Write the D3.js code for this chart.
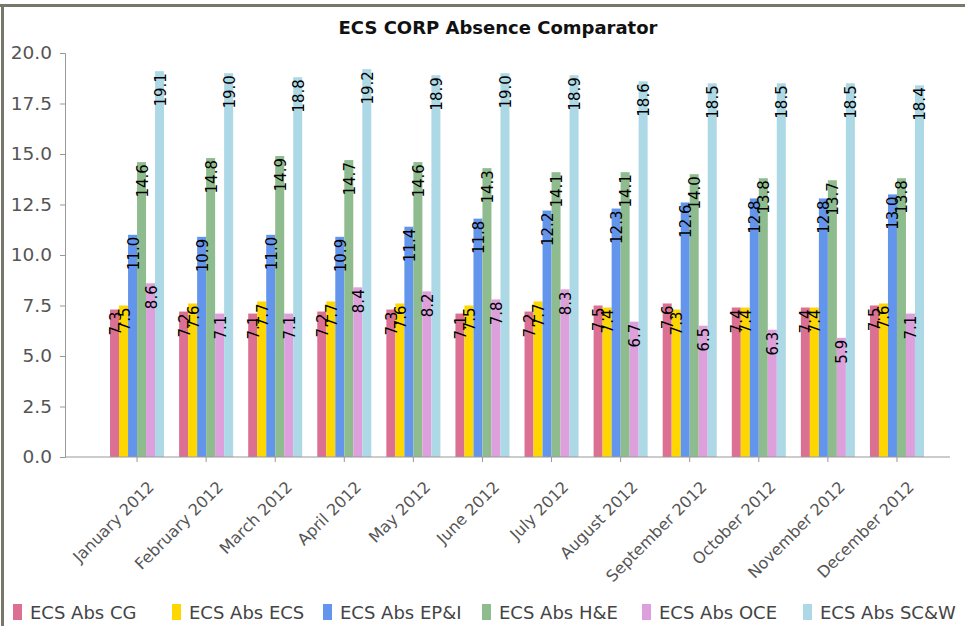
<!DOCTYPE html>
<html>
<head>
<meta charset="utf-8">
<script src="https://cdnjs.cloudflare.com/ajax/libs/d3/7.8.5/d3.min.js"></script>
<style>
    body { margin: 0; background: #fff; }
    svg { display: block; font-family: "DejaVu Sans", Verdana, sans-serif; }
</style>
</head>
<body>
<div id="chart"></div>
<script>
// months on the x axis
const months = ["January 2012", "February 2012", "March 2012", "April 2012", "May 2012", "June 2012",
    "July 2012", "August 2012", "September 2012", "October 2012", "November 2012", "December 2012"];

const seriesNames = ["ECS Abs CG", "ECS Abs ECS", "ECS Abs EP&I", "ECS Abs H&E", "ECS Abs OCE", "ECS Abs SC&W"];
const seriesColors = ["#db7093", "#ffd700", "#6495ed", "#8fbc8f", "#dda0dd", "#add8e6"];

// values
const absCG  = [7.3, 7.2, 7.1, 7.2, 7.3, 7.1, 7.2, 7.5, 7.6, 7.4, 7.4, 7.5];
const absECS = [7.5, 7.6, 7.7, 7.7, 7.6, 7.5, 7.7, 7.4, 7.3, 7.4, 7.4, 7.6];
const absEPI = [11.0, 10.9, 11.0, 10.9, 11.4, 11.8, 12.2, 12.3, 12.6, 12.8, 12.8, 13.0];
const absHE  = [14.6, 14.8, 14.9, 14.7, 14.6, 14.3, 14.1, 14.1, 14.0, 13.8, 13.7, 13.8];
const absOCE = [8.6, 7.1, 7.1, 8.4, 8.2, 7.8, 8.3, 6.7, 6.5, 6.3, 5.9, 7.1];
const absSCW = [19.1, 19.0, 18.8, 19.2, 18.9, 19.0, 18.9, 18.6, 18.5, 18.5, 18.5, 18.4];

const yTicks = [0, 2.5, 5, 7.5, 10, 12.5, 15, 17.5, 20];

const seriesValues = [absCG, absECS, absEPI, absHE, absOCE, absSCW];

const width = 965, height = 626;

let svg = d3.select("#chart").append("svg")
    .attr("width", width)
    .attr("height", height);

// panel frame (top and left edges)
svg.append("rect").attr("x", 0).attr("y", 4).attr("width", width).attr("height", 3).attr("fill", "#77776b");
svg.append("rect").attr("x", 1).attr("y", 4).attr("width", 3).attr("height", height).attr("fill", "#77776b");

svg.append("text")
    .attr("x", 498)
    .attr("y", 34)
    .attr("text-anchor", "middle")
    .style("font-size", "18px")
    .style("font-weight", "bold")
    .style("fill", "#111")
    .text("ECS CORP Absence Comparator");

let y = d3.scaleLinear().domain([0, 20]).range([457, 53]);

let x0 = d3.scaleBand()
    .domain(months)
    .range([102.5, 931.5])
    .paddingInner(0.218)
    .paddingOuter(0.109);

let x1 = d3.scaleBand()
    .domain(seriesNames)
    .range([0, x0.bandwidth()]);

// y axis
let yAxis = svg.append("g")
    .attr("transform", "translate(65,0)")
    .call(d3.axisLeft(y).tickValues(yTicks).tickFormat(d3.format(".1f")).tickSize(5).tickSizeOuter(5));
yAxis.select(".domain").attr("stroke", "#999");
yAxis.selectAll(".tick line").attr("stroke", "#999");
yAxis.selectAll(".tick text")
    .attr("x", -13)
    .style("font-size", "18.5px")
    .style("fill", "#555")
    .style("font-family", "DejaVu Sans, Verdana, sans-serif");

// bars
let groups = svg.append("g").selectAll("g")
    .data(months)
    .join("g")
    .attr("transform", d => "translate(" + x0(d) + ",0)");

groups.selectAll("rect")
    .data((m, i) => seriesNames.map((s, j) => ({ series: s, value: seriesValues[j][i], color: seriesColors[j] })))
    .join("rect")
    .attr("x", d => x1(d.series))
    .attr("y", d => y(d.value))
    .attr("width", x1.bandwidth())
    .attr("height", d => y(0) - y(d.value))
    .attr("fill", d => d.color);

// value labels on top of all bars
groups.selectAll("text")
    .data((m, i) => seriesNames.map((s, j) => ({ series: s, value: seriesValues[j][i] })))
    .join("text")
    .attr("transform", d => "translate(" + (x1(d.series) + x1.bandwidth() / 2 + 1) + "," + (y(d.value) + 2) + ") rotate(-90)")
    .attr("text-anchor", "end")
    .attr("dominant-baseline", "central")
    .style("font-size", "15px")
    .style("fill", "#000")
    .text(d => d.value.toFixed(1));

// x axis
svg.append("line")
    .attr("x1", 65).attr("x2", 950)
    .attr("y1", y(0)).attr("y2", y(0))
    .attr("stroke", "#999");

let xAxis = svg.append("g")
    .attr("transform", "translate(0," + y(0) + ")")
    .call(d3.axisBottom(x0).tickSize(5).tickSizeOuter(0));
xAxis.select(".domain").remove();
xAxis.selectAll(".tick line").attr("stroke", "#999");
xAxis.selectAll(".tick text")
    .attr("transform", "translate(18,31) rotate(-45)")
    .attr("text-anchor", "end")
    .attr("y", 0)
    .attr("dy", 0)
    .style("font-size", "16px")
    .style("fill", "#555")
    .style("font-family", "DejaVu Sans, Verdana, sans-serif");

// legend, items at the slots used by the original
let legendX = [13, 172, 323, 482, 642, 803];
let legend = svg.append("g").selectAll("g")
    .data(seriesNames)
    .join("g")
    .attr("transform", (d, i) => "translate(" + legendX[i] + ",604)");

legend.append("rect")
    .attr("width", 9)
    .attr("height", 16)
    .attr("fill", (d, i) => seriesColors[i]);

legend.append("text")
    .attr("x", 17)
    .attr("y", 15)
    .style("font-size", "18px")
    .style("fill", "#444")
    .text(d => d);
</script>
</body>
</html>
